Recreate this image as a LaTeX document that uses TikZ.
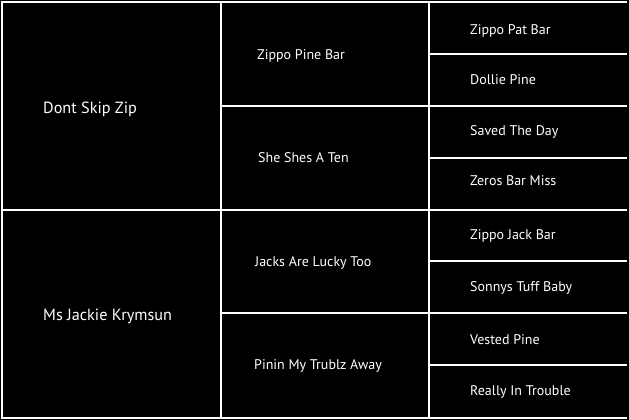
\documentclass[tikz,border=0pt]{standalone}
\usepackage{fontspec}
\setmainfont{PT Sans}
\usepackage{tikz}

\tikzset{
	big/.style={anchor=west, text=white, inner sep=0pt, font=\fontsize{16.2}{18}\selectfont},
	small/.style={anchor=west, text=white, inner sep=0pt, font=\fontsize{14}{16}\selectfont},
	thickline/.style={draw=white, line width=2pt},
	thinline/.style={draw=white, line width=1.2pt}
}

\begin{document}
\begin{tikzpicture}[x=1pt, y=-1pt]
	
	\fill[black] (0, 0) rectangle (629, 420);
	\useasboundingbox (0, 0) rectangle (629, 420);
	
	\draw[thickline] (627, 2) -- (2, 2) -- (2, 418) -- (627, 418);
	\draw[thickline] (221, 2) -- (221, 418);
	\draw[thickline] (429, 2) -- (429, 418);
	\draw[thickline] (2, 210) -- (627, 210);
	\draw[thinline] (221, 106) -- (627, 106);
	\draw[thinline] (221, 313) -- (627, 313);
	\draw[thinline] (429, 54) -- (627, 54);
	\draw[thinline] (429, 158) -- (627, 158);
	\draw[thinline] (429, 261) -- (627, 261);
	\draw[thinline] (429, 365) -- (627, 365);
	
	\node[big] (s) at (43, 109)     {Dont Skip Zip};
	\node[big] (d) at (43, 316)     {Ms Jackie Krymsun};
	
	\node[small] (ss) at (257, 56)  {Zippo Pine Bar};
	\node[small] (sd) at (258, 158) {She Shes A Ten};
	\node[small] (ds) at (255, 263) {Jacks Are Lucky Too};
	\node[small] (dd) at (254, 366) {Pinin My Trublz Away};
	
	\node[small] (sss) at (470, 31)  {Zippo Pat Bar};
	\node[small] (ssd) at (470, 80)  {Dollie Pine};
	\node[small] (sds) at (470, 132) {Saved The Day};
	\node[small] (sdd) at (470, 181) {Zeros Bar Miss};
	\node[small] (dss) at (470, 236) {Zippo Jack Bar};
	\node[small] (dsd) at (470, 288) {Sonnys Tuff Baby};
	\node[small] (dds) at (470, 340) {Vested Pine};
	\node[small] (ddd) at (470, 392) {Really In Trouble};
	
\end{tikzpicture}
\end{document}
